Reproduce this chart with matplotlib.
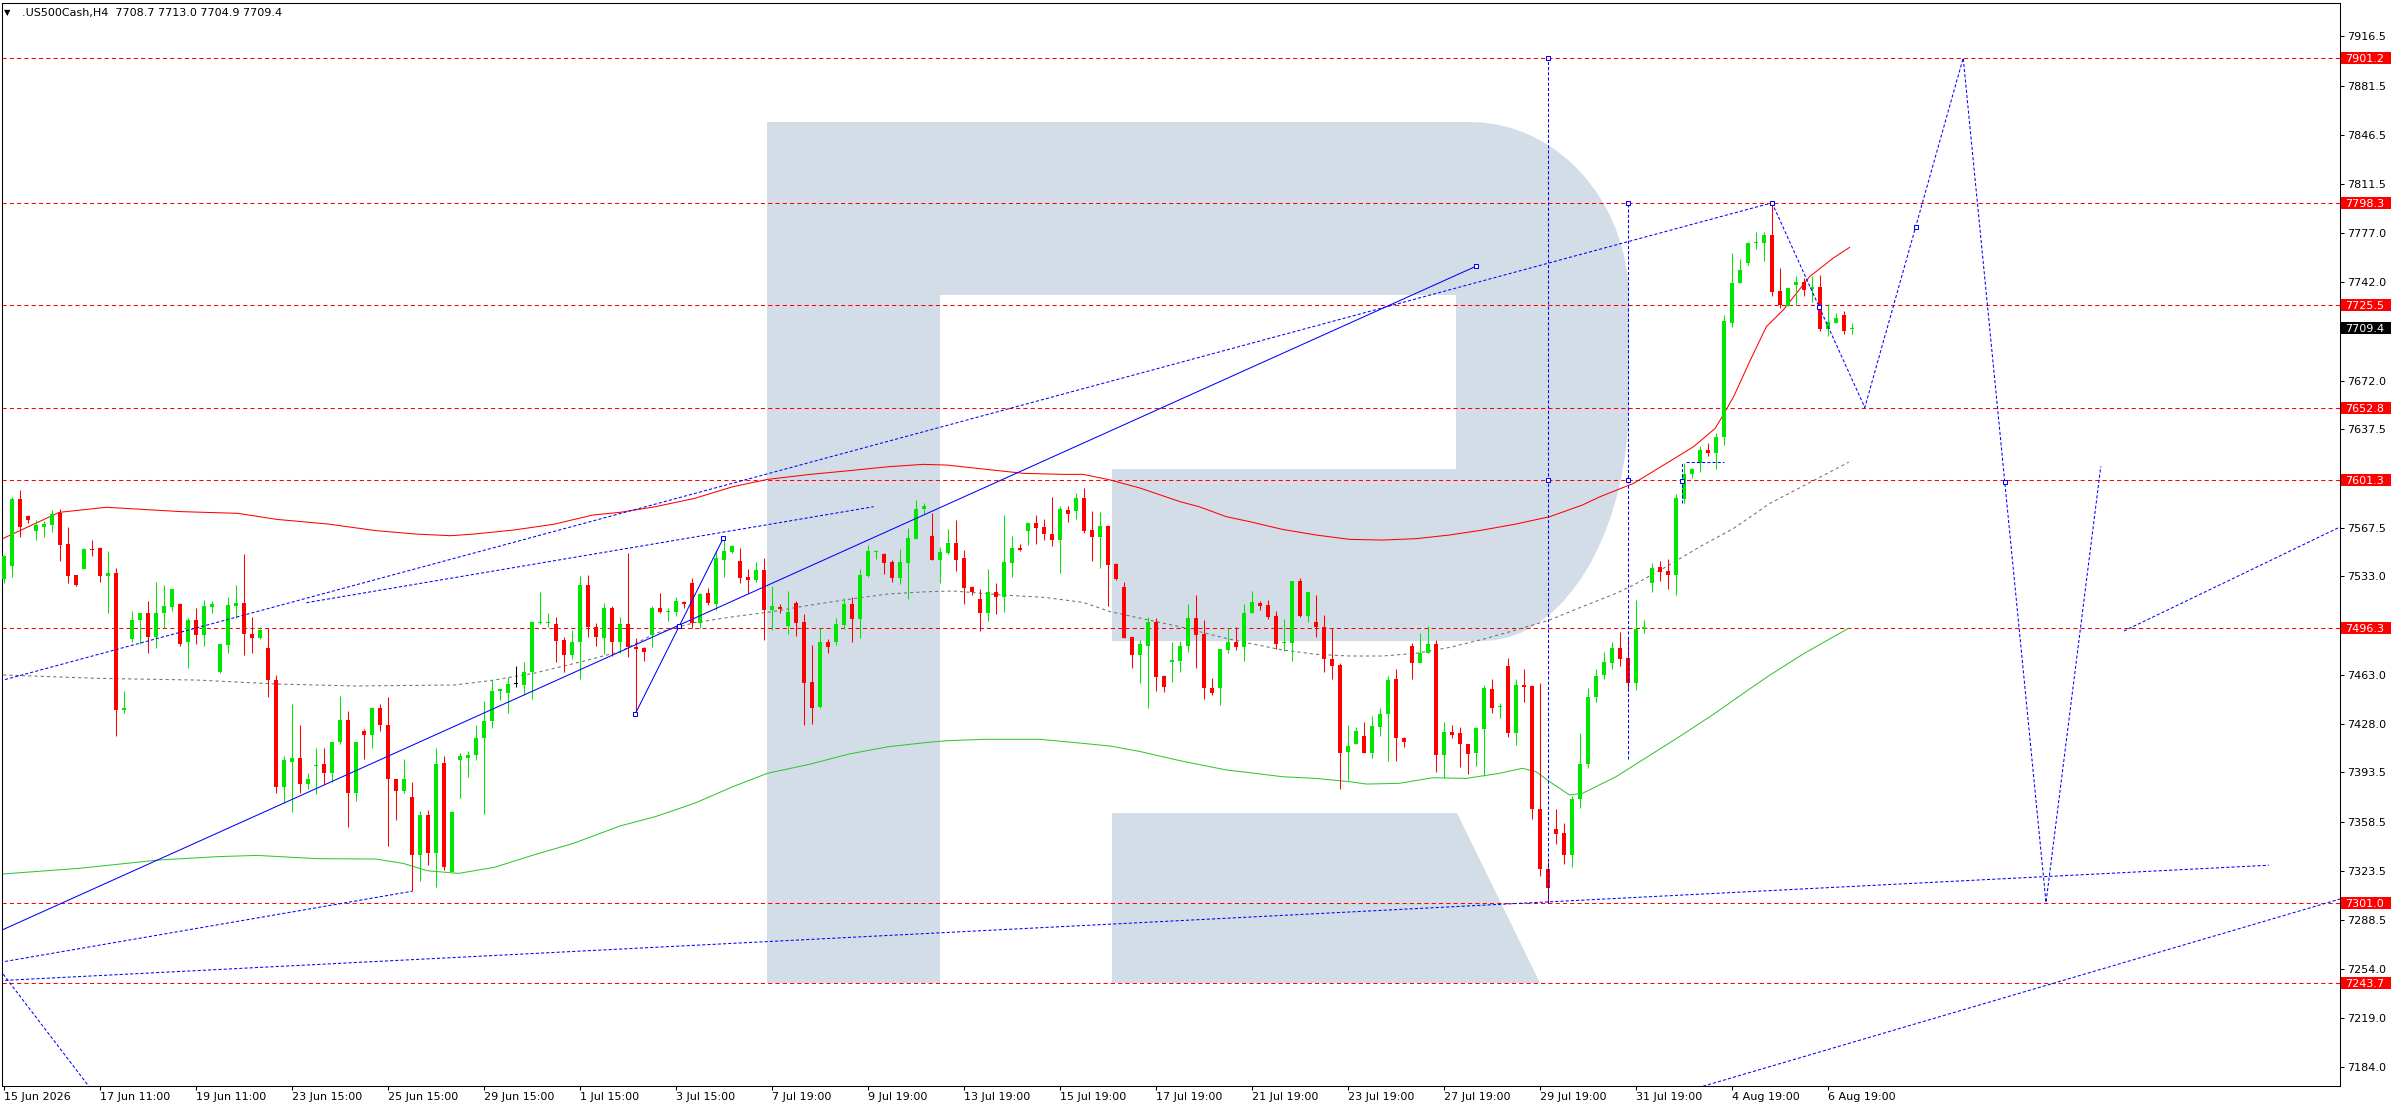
import matplotlib
matplotlib.use("Agg")
import matplotlib.pyplot as plt
import matplotlib.patches as mpatches
from matplotlib.transforms import Affine2D, blended_transform_factory
import numpy as np

# ---------------- candles (H4 bars, index 0 = first visible bar) ----------------
opens = [
    7531, 7540, 7588, 7576, 7565, 7568, 7569, 7578, 7556, 7534,
    7538, 7552.5, 7553, 7533, 7535, 7438, 7488, 7502, 7506.5, 7490,
    7507, 7511, 7513, 7486, 7502, 7491, 7511, 7465, 7484, 7512,
    7514, 7492, 7489, 7482, 7459, 7383, 7401, 7404, 7385, 7398,
    7399.5, 7393, 7415, 7431, 7379, 7423, 7420, 7439.5, 7427, 7389,
    7380, 7376, 7335, 7363, 7336, 7400, 7323, 7402, 7404, 7405.5,
    7418, 7430, 7451, 7450, 7456, 7455.6, 7465, 7500, 7500, 7499,
    7487.6, 7477, 7486, 7527, 7497, 7489, 7510.5, 7486, 7498.9, 7482.8,
    7482.1, 7491.1, 7510.1, 7507.7, 7507.7, 7514.3, 7527.8, 7499.9, 7520.7, 7512.9,
    7544.4, 7550.3, 7543.7, 7532.1, 7530.2, 7537.3, 7508.9, 7510.8, 7497.8, 7514.1,
    7500.1, 7457.5, 7440.2, 7486.4, 7485.9, 7498.2, 7513.1, 7502.5, 7533.3, 7549.9,
    7548.7, 7542.8, 7531.9, 7542.5, 7559.3, 7580.7, 7561.5, 7544.4, 7549.2, 7556.3,
    7545.6, 7525.5, 7516.7, 7507.0, 7521.4, 7518.4, 7542.5, 7552.9, 7565.3, 7570.5,
    7567.6, 7562.9, 7558.6, 7580.0, 7579.5, 7588.2, 7565.7, 7561.0, 7568.6, 7541.6,
    7525.5, 7489.5, 7476.9, 7483.5, 7500.1, 7462.0, 7471.7, 7472.9, 7483.5, 7503.0,
    7491.8, 7453.2, 7453.2, 7480.5, 7486.4, 7482.8, 7506.5, 7514.1, 7512.4, 7504.6,
    7485.2, 7485.7, 7529.5, 7504.9, 7500.6, 7496.6, 7474.1, 7469.8, 7408.2, 7413.4,
    7419.6, 7407.0, 7426.0, 7434.7, 7459.8, 7418.2, 7483.3, 7471.4, 7478.1, 7484.7,
    7405.6, 7421.9, 7421.2, 7413.6, 7407.0, 7424.1, 7452.7, 7440.0, 7469.1, 7421.7,
    7455.6, 7454.9, 7367.5, 7324.8, 7353.2, 7350.2, 7334.8, 7374.3, 7399.2, 7447.3,
    7462.7, 7471.4, 7481.6, 7474.5, 7457.3, 7495.2, 7528.3, 7539.2, 7536.6, 7533.8,
    7587.8, 7605.3, 7613.1, 7622.6, 7620.7, 7632.1, 7713.1, 7741.1, 7755.3, 7769.5,
    7770.0, 7775.4, 7735.6, 7724.9, 7739.9, 7741.8, 7736.8, 7738.7, 7708.6, 7713.1,
    7718.5, 7708.7,
]
highs = [
    7548, 7589, 7594, 7576.5, 7573, 7572, 7580, 7581, 7568, 7534,
    7553, 7559, 7554, 7551, 7539, 7451, 7508, 7507, 7515, 7529,
    7527, 7524, 7514, 7503, 7510, 7516, 7515, 7485, 7518, 7527,
    7549, 7504, 7497, 7496, 7463, 7405, 7442, 7427, 7393, 7411,
    7411, 7415, 7448, 7437, 7415, 7424, 7440, 7442, 7447, 7389,
    7403, 7387, 7366, 7367, 7411, 7405, 7366, 7407, 7409, 7427,
    7444, 7459, 7453, 7461.5, 7469, 7472, 7501, 7522, 7507, 7504,
    7490, 7495, 7533, 7534, 7500, 7513.6, 7512, 7504, 7549.2, 7488.7,
    7482.3, 7511.7, 7520.7, 7510.1, 7518.4, 7515.3, 7531.4, 7520.7, 7524.3, 7551.5,
    7558.6, 7555.1, 7552.7, 7537.8, 7543.2, 7546.1, 7526.2, 7513.1, 7522.4, 7515.5,
    7506.0, 7484.0, 7495.9, 7488.0, 7503.0, 7517.2, 7517.9, 7538.0, 7554.8, 7551.5,
    7549.6, 7544.4, 7552.2, 7566.9, 7587.1, 7584.9, 7577.6, 7553.9, 7566.2, 7572.8,
    7551.5, 7526.2, 7523.8, 7538.0, 7528.3, 7576.4, 7561.5, 7555.8, 7571.7, 7576.4,
    7573.6, 7589.0, 7583.0, 7583.0, 7592.3, 7595.3, 7579.5, 7578.8, 7569.3, 7542.0,
    7528.5, 7489.5, 7487.6, 7504.1, 7503.4, 7462.7, 7486.4, 7486.8, 7513.1, 7519.5,
    7501.8, 7460.3, 7481.2, 7495.9, 7496.6, 7512.9, 7522.4, 7515.3, 7516.0, 7508.2,
    7502.5, 7529.5, 7531.9, 7521.4, 7519.5, 7505.3, 7495.9, 7471.4, 7427.2, 7425.5,
    7429.5, 7433.5, 7439.0, 7462.0, 7466.7, 7418.9, 7485.2, 7492.8, 7497.5, 7487.6,
    7429.5, 7427.2, 7426.0, 7413.6, 7426.0, 7455.6, 7459.6, 7443.0, 7475.0, 7459.6,
    7466.7, 7455.6, 7456.8, 7329.5, 7367.5, 7357.3, 7376.9, 7421.2, 7453.7, 7466.7,
    7478.8, 7486.4, 7493.5, 7489.9, 7516.0, 7501.8, 7542.1, 7544.0, 7545.1, 7591.3,
    7613.1, 7610.1, 7625.4, 7627.3, 7634.9, 7718.5, 7762.8, 7758.1, 7770.7, 7777.8,
    7777.8, 7798.3, 7752.2, 7738.7, 7746.3, 7744.6, 7746.3, 7747.0, 7726.4, 7720.2,
    7721.4, 7713.0,
]
lows = [
    7528, 7532, 7561, 7571, 7559, 7561, 7564, 7544, 7528, 7526,
    7538, 7547, 7529, 7507, 7419, 7436, 7486, 7485, 7478, 7482,
    7496, 7508, 7483, 7468, 7485, 7483, 7507, 7464, 7478, 7503,
    7477, 7478, 7488, 7447, 7379, 7372, 7365, 7379, 7382, 7378,
    7385, 7387, 7414, 7355, 7373, 7403, 7411, 7423, 7341, 7360,
    7379, 7309, 7316.5, 7328, 7312, 7324, 7323, 7375, 7390, 7402,
    7364, 7425, 7445, 7436, 7454, 7448.5, 7446, 7499, 7497, 7472,
    7465, 7474, 7460, 7490, 7483, 7477.6, 7476, 7478, 7475.7, 7435.0,
    7472.9, 7482.8, 7506.5, 7501.3, 7504.9, 7510.1, 7495.9, 7495.9, 7512.4, 7508.9,
    7532.6, 7549.2, 7528.3, 7520.7, 7529.0, 7487.6, 7494.7, 7507.0, 7491.8, 7490.6,
    7427.2, 7427.9, 7439.0, 7478.1, 7484.2, 7495.1, 7486.4, 7488.7, 7532.6, 7545.1,
    7534.5, 7529.0, 7527.4, 7516.7, 7559.3, 7577.1, 7544.4, 7528.3, 7548.4, 7536.6,
    7513.1, 7519.5, 7494.0, 7501.1, 7506.0, 7507.2, 7532.6, 7550.8, 7555.1, 7555.8,
    7558.6, 7554.4, 7534.9, 7571.4, 7573.3, 7563.4, 7543.9, 7539.0, 7512.0, 7530.2,
    7489.2, 7467.9, 7456.8, 7439.0, 7451.6, 7450.4, 7457.5, 7465.1, 7478.8, 7467.9,
    7445.4, 7448.5, 7441.4, 7478.1, 7480.5, 7472.9, 7506.5, 7508.9, 7502.5, 7480.9,
    7480.0, 7472.9, 7504.1, 7500.6, 7489.9, 7464.6, 7459.6, 7381.4, 7388.1, 7413.4,
    7407.0, 7403.5, 7419.3, 7401.8, 7401.8, 7411.3, 7459.6, 7471.0, 7478.1, 7394.0,
    7389.2, 7417.7, 7397.5, 7392.1, 7398.2, 7390.9, 7435.4, 7431.9, 7418.9, 7412.9,
    7443.3, 7360.1, 7320.1, 7301.0, 7342.6, 7328.4, 7326.5, 7367.9, 7396.4, 7443.3,
    7459.6, 7467.0, 7469.3, 7452.5, 7452.0, 7492.3, 7521.9, 7529.7, 7523.8, 7519.6,
    7584.7, 7602.5, 7607.2, 7618.6, 7609.1, 7626.2, 7710.3, 7741.1, 7754.1, 7765.5,
    7757.2, 7732.1, 7723.3, 7724.9, 7725.7, 7732.1, 7728.0, 7707.4, 7703.9, 7713.1,
    7705.0, 7704.9,
]
closes = [
    7547, 7588, 7568, 7573, 7569, 7570, 7577, 7555, 7533, 7527,
    7552, 7551.5, 7533, 7535, 7438, 7439, 7502, 7506.5, 7490, 7507,
    7512, 7524, 7485, 7502, 7491, 7512, 7513, 7485, 7512.5, 7514,
    7492, 7489, 7495, 7459, 7383, 7402, 7404, 7385, 7389, 7399,
    7393, 7415, 7431, 7379, 7415, 7420, 7439.5, 7427, 7389, 7380,
    7389, 7335, 7363, 7336, 7399.5, 7326, 7365, 7405, 7406, 7418,
    7430, 7451, 7452.5, 7456, 7456, 7465, 7500.6, 7500.6, 7500.5, 7487,
    7477, 7486, 7527, 7497, 7490, 7510.5, 7486, 7499, 7482.3, 7481.4,
    7479.3, 7510.1, 7507.7, 7508.2, 7515.0, 7512.9, 7499.4, 7520.3, 7513.6, 7545.6,
    7550.8, 7554.4, 7531.9, 7530.2, 7537.3, 7508.9, 7511.7, 7509.6, 7507.2, 7499.9,
    7457.2, 7439.5, 7486.4, 7482.8, 7498.9, 7513.1, 7502.5, 7533.8, 7550.8, 7550.8,
    7542.5, 7531.9, 7542.8, 7559.8, 7580.7, 7582.6, 7544.4, 7549.9, 7556.3, 7544.4,
    7524.8, 7521.4, 7507.0, 7521.4, 7518.4, 7542.8, 7552.9, 7551.5, 7570.9, 7567.4,
    7562.9, 7558.6, 7580.7, 7577.1, 7588.2, 7565.3, 7561.0, 7568.6, 7540.9, 7530.9,
    7489.2, 7476.9, 7484.7, 7500.1, 7461.5, 7453.9, 7473.3, 7483.3, 7503.0, 7491.1,
    7453.2, 7449.7, 7481.2, 7486.4, 7482.8, 7507.0, 7514.3, 7512.0, 7504.1, 7484.5,
    7486.4, 7529.5, 7504.9, 7521.4, 7496.6, 7473.8, 7469.3, 7407.5, 7412.2, 7422.9,
    7407.0, 7426.4, 7435.0, 7459.1, 7417.7, 7414.8, 7471.4, 7478.1, 7484.7, 7405.6,
    7421.9, 7420.0, 7413.4, 7406.3, 7425.3, 7453.7, 7439.5, 7440.2, 7421.7, 7455.6,
    7454.4, 7367.2, 7324.6, 7311.1, 7349.4, 7334.8, 7374.6, 7399.4, 7446.8, 7462.0,
    7471.7, 7481.6, 7474.1, 7457.3, 7495.4, 7496.6, 7538.5, 7536.1, 7533.8, 7588.3,
    7605.5, 7609.1, 7622.6, 7620.7, 7632.1, 7714.3, 7741.1, 7750.5, 7769.5, 7770.7,
    7775.4, 7735.1, 7725.7, 7738.0, 7742.2, 7736.3, 7738.7, 7708.6, 7713.8, 7716.7,
    7707.4, 7709.4,
]

# time axis: one label every 12 bars
time_labels = [
    "15 Jun 2026", "17 Jun 11:00", "19 Jun 11:00", "23 Jun 15:00", "25 Jun 15:00",
    "29 Jun 15:00", "1 Jul 15:00", "3 Jul 15:00", "7 Jul 19:00", "9 Jul 19:00",
    "13 Jul 19:00", "15 Jul 19:00", "17 Jul 19:00", "21 Jul 19:00", "23 Jul 19:00",
    "27 Jul 19:00", "29 Jul 19:00", "31 Jul 19:00", "4 Aug 19:00", "6 Aug 19:00",
]
time_ticks = [12 * k for k in range(len(time_labels))]

price_ticks = [7916.5, 7881.5, 7846.5, 7811.5, 7777.0, 7742.0, 7672.0, 7637.5,
               7567.5, 7533.0, 7463.0, 7428.0, 7393.5, 7358.5, 7323.5, 7288.5,
               7254.0, 7219.0, 7184.0]

# red horizontal levels
levels = [7901.2, 7798.3, 7725.5, 7652.8, 7601.3, 7496.3, 7301.0, 7243.7]

# bollinger bands
bb_up_x = [-0.1, 6.9, 12.8, 22.2, 29.2, 34.1, 40.5, 46.5, 51.4, 55.8,
           58.8, 63.8, 68.7, 73.6, 77.0, 81.4, 86.3, 91.1, 95.4, 100.8,
           105.6, 110.5, 114.9, 117.9, 122.7, 127.5, 132.4, 134.9, 138.3, 142.1,
           147.0, 149.4, 152.8, 155.7, 159.8, 164.0, 168.2, 172.3, 176.5, 180.7,
           184.8, 189.0, 193.2, 197.3, 199.5, 203.7, 207.8, 211.2, 213.9, 214.9,
           216.2, 218.3, 220.3, 222.4, 225.7, 228.6, 230.7]
bb_up_y = [7559.8, 7578.3, 7581.9, 7578.8, 7577.6, 7573.3, 7570.0, 7565.3, 7562.9, 7561.7,
           7562.9, 7565.8, 7569.8, 7576.4, 7578.3, 7582.3, 7588.2, 7596.5, 7601.7, 7605.3,
           7607.9, 7610.7, 7612.4, 7611.9, 7608.9, 7606.0, 7605.3, 7605.3, 7601.3, 7595.4,
           7585.9, 7582.3, 7575.2, 7571.7, 7566.2, 7562.2, 7559.1, 7558.6, 7559.6, 7562.2,
           7565.7, 7570.0, 7575.2, 7583.5, 7589.4, 7598.9, 7613.1, 7625.0, 7638.0, 7647.5,
           7660.5, 7686.6, 7710.3, 7722.1, 7745.8, 7758.8, 7766.6]
bb_mid_x = [-0.1, 11.9, 24.2, 34.1, 44.0, 56.3, 60.8, 66.2, 72.2, 77.0,
            81.4, 86.3, 91.1, 96.0, 100.8, 105.6, 110.5, 115.4, 118.7, 125.0,
            130.0, 134.9, 138.3, 142.1, 147.0, 152.8, 155.7, 159.8, 164.0, 168.2,
            172.3, 176.5, 180.7, 184.8, 189.0, 193.2, 197.3, 201.5, 203.7, 207.8,
            212.0, 216.2, 220.75, 230.6]
bb_mid_y = [7462.7, 7460.3, 7459.1, 7456.3, 7454.9, 7455.6, 7458.7, 7463.9, 7472.2, 7479.3,
            7492.3, 7499.9, 7504.1, 7507.7, 7512.4, 7516.5, 7520.3, 7521.9, 7522.4, 7519.5,
            7517.9, 7514.3, 7507.7, 7503.0, 7497.0, 7488.7, 7485.2, 7480.5, 7477.4, 7476.2,
            7476.2, 7478.1, 7482.3, 7488.0, 7494.7, 7501.8, 7511.3, 7520.7, 7526.7, 7539.7,
            7553.9, 7566.9, 7584.7, 7614.0]
bb_low_x = [-0.1, 9.4, 19.3, 26.7, 31.6, 39.0, 46.5, 49.9, 52.9, 56.8,
            61.3, 66.2, 71.2, 77.0, 81.4, 86.3, 91.1, 95.4, 100.8, 105.6,
            110.5, 115.4, 117.9, 122.7, 129.5, 134.9, 138.3, 142.1, 147.0, 152.8,
            155.7, 159.8, 164.0, 168.2, 170.3, 174.4, 178.6, 182.75, 186.9, 189.8,
            191.5, 193.2, 195.7, 197.3, 201.5, 205.0, 210.0, 214.0, 218.0, 220.75,
            225.0, 230.6]
bb_low_y = [7321.3, 7325.3, 7331.2, 7333.6, 7334.5, 7332.2, 7331.9, 7328.8, 7323.6, 7321.7,
            7326.0, 7334.8, 7343.1, 7355.4, 7362.0, 7371.5, 7383.3, 7392.8, 7399.4, 7406.5,
            7411.7, 7414.8, 7416.0, 7417.0, 7417.0, 7414.1, 7412.2, 7408.2, 7401.8, 7395.2,
            7393.3, 7390.4, 7389.2, 7386.9, 7385.2, 7385.7, 7389.7, 7389.2, 7392.8, 7396.4,
            7394.0, 7386.9, 7377.4, 7378.6, 7390.4, 7403.0, 7421.0, 7436.0, 7452.0, 7462.7,
            7478.0, 7496.0]

# drawn objects (bar index, price)
trend_x, trend_y = [-0.5, 184.0], [7280.8, 7753.2]
chan_top_x, chan_top_y = [-0.5, 221.0], [7458.5, 7798.3]
chan_mid_x, chan_mid_y = [37.8, 108.7], [7514.1, 7582.3]
sup1_x, sup1_y = [-0.5, 51.0], [7258.5, 7309.0]
sup2_x, sup2_y = [-0.5, 283.1], [7245.5, 7327.5]
fall_x, fall_y = [-0.5, 12.0], [7253.0, 7160.0]
rise_x, rise_y = [208.0, 295.0], [7163.1, 7308.5]
right_x, right_y = [265.0, 295.0], [7494.0, 7576.1]
vert1_x, vert1_y = [193, 193], [7301.0, 7901.2]
vert2_x, vert2_y = [203, 203], [7403.0, 7798.3]
fcst_x = [221.0, 232.6, 244.9, 255.25, 262.1]
fcst_y = [7798.3, 7652.8, 7901.2, 7301.0, 7611.0]
wave_x, wave_y = [78.9, 89.9], [7435.0, 7559.8]
box_v_x, box_v_y = [209.75, 209.75], [7584.7, 7614.3]
box_h_x, box_h_y = [210.25, 215.0], [7614.3, 7614.3]
anchor_x = [184.0, 221.0, 226.9, 239.0, 250.1, 193, 193, 203, 203, 78.9, 84.4, 89.9, 209.8]
anchor_y = [7753.2, 7798.3, 7724.3, 7781.0, 7599.6, 7901.2, 7601.3, 7798.3, 7601.3,
            7435.0, 7497.7, 7559.8, 7600.5]

# ---------------- figure ----------------
W, H = 2396, 1110
GREEN, RED, BLUE = "#00e600", "#ff0000", "#0000ff"
LW = 0.75
DOT = (0, (3, 2))

fig = plt.figure(figsize=(W / 100, H / 100), dpi=100, facecolor="white")
ax = fig.add_axes([2 / W, (H - 1086) / H, 2338 / W, 1083 / H])
ax.set_facecolor("white")

# watermark logo (pixel coords, y down)
px = Affine2D().scale(1, -1).translate(0, H)
logo_col = "#d3dde8"
t1 = np.linspace(0, np.pi / 2, 20)
top_arc = [(1470 + 159 * np.sin(t), 300 - 178 * np.cos(t)) for t in t1]
bot_arc = [(1483 + 146 * np.cos(t), 400 + 241 * np.sin(t)) for t in t1]
stem = [(767, 122), (940, 122), (940, 983), (767, 983)]
bowl = ([(940, 122)] + top_arc + bot_arc +
        [(1112, 641), (1112, 469), (1456, 469), (1456, 295), (940, 295)])
leg = [(1112, 813), (1457, 813), (1540, 983), (1112, 983)]
for shape in (stem, bowl, leg):
    ax.add_patch(mpatches.Polygon(shape, closed=True, transform=px, facecolor=logo_col,
                                  edgecolor="none", zorder=0.5))

# levels
for lv in levels:
    ax.axhline(lv, color=RED, lw=LW, ls=(0, (4, 3)), zorder=1.5)

# bands
ax.plot(bb_up_x, bb_up_y, color="#ff0000", lw=LW, zorder=2)
ax.plot(bb_mid_x, bb_mid_y, color="#707070", lw=LW, ls=(0, (3, 3)), zorder=2)
ax.plot(bb_low_x, bb_low_y, color="#33c633", lw=LW, zorder=2)

# candles
xs = list(range(len(opens)))
cols = []
for o, c in zip(opens, closes):
    cols.append(GREEN if c > o else (RED if c < o else "black"))
px_price = (7940.3 - 7170.6) / 1083.0
bottoms = [min(o, c) for o, c in zip(opens, closes)]
heights = [max(abs(c - o), px_price) for o, c in zip(opens, closes)]
ax.vlines(xs, lows, highs, colors=cols, lw=LW, zorder=3)
ax.bar(xs, heights, bottom=bottoms, width=0.62, color=cols, lw=0, zorder=3)

# drawn lines
ax.plot(trend_x, trend_y, color=BLUE, lw=LW, zorder=4)
ax.plot(wave_x, wave_y, color=BLUE, lw=LW, zorder=4)
for lx, ly in [(chan_top_x, chan_top_y), (chan_mid_x, chan_mid_y), (sup1_x, sup1_y),
               (sup2_x, sup2_y), (fall_x, fall_y), (rise_x, rise_y), (right_x, right_y),
               (vert1_x, vert1_y), (vert2_x, vert2_y), (fcst_x, fcst_y),
               (box_v_x, box_v_y), (box_h_x, box_h_y)]:
    ax.plot(lx, ly, color=BLUE, lw=LW, ls=DOT, zorder=4)
ax.plot(anchor_x, anchor_y, ls="none", marker="s", ms=3.3, mfc="white", mec=BLUE,
        mew=LW, zorder=5)

ax.set_xlim(-0.25, 292.0)
ax.set_ylim(7170.6, 7940.3)

# axes styling
for sp in ax.spines.values():
    sp.set_color("black")
    sp.set_linewidth(LW)
ax.set_xticks(time_ticks, time_labels)
for lbl in ax.get_xticklabels():
    lbl.set_horizontalalignment("left")
ax.set_yticks(price_ticks, [f"{v:.1f}" for v in price_ticks])
ax.tick_params(axis="x", direction="out", length=3, width=LW, pad=1.5, labelsize=8)
ax.tick_params(axis="y", left=False, right=True, labelleft=False, labelright=True,
               direction="out", length=3, width=LW, pad=2, labelsize=8)

# price labels on the right scale
trans = blended_transform_factory(ax.transAxes, ax.transData)
aw = 2338.0
box_h = 12 * px_price
for lv, fc in [(v, RED) for v in levels] + [(closes[-1], "black")]:
    ax.add_patch(mpatches.Rectangle((1 + 1 / aw, lv - box_h / 2), 50 / aw, box_h,
                                    transform=trans, facecolor=fc, edgecolor="none",
                                    clip_on=False, zorder=6))
    ax.text(1 + 5 / aw, lv, f"{lv:.1f}", transform=trans, color="white", fontsize=8,
            va="center_baseline", ha="left", zorder=7, clip_on=False)

# header
fig.text(4 / W, 1 - 13 / H, "\u25bc", fontsize=6, va="center", ha="left")
fig.text(22 / W, 1 - 13 / H,
         f".US500Cash,H4  {opens[-1]:.1f} {highs[-1]:.1f} {lows[-1]:.1f} {closes[-1]:.1f}",
         fontsize=8, va="center", ha="left")

fig.savefig("out.png", dpi=100, facecolor="white")
